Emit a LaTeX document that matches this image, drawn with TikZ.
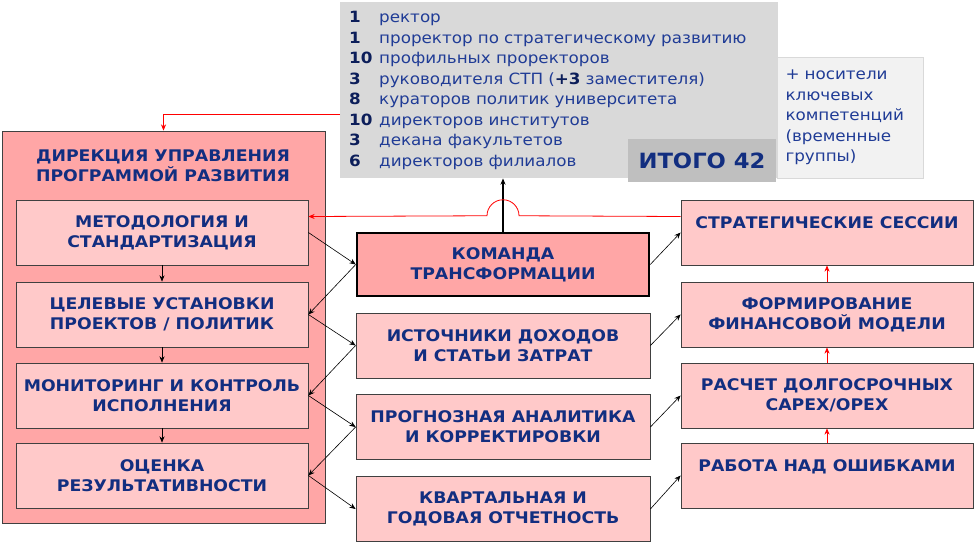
\documentclass[tikz,border=0pt]{standalone}
\usepackage{fontspec}
\setmainfont[FakeStretch=1.08]{DejaVu Sans}
\usepackage{xcolor}
\usetikzlibrary{positioning,arrows.meta,calc}
\definecolor{navy}{RGB}{18,46,128}
\definecolor{digc}{RGB}{12,30,90}
\definecolor{listc}{RGB}{32,60,150}
\definecolor{pinkd}{RGB}{255,166,166}
\definecolor{pinkl}{RGB}{255,201,201}
\definecolor{edge}{RGB}{64,64,64}
\definecolor{greyb}{RGB}{217,217,217}
\definecolor{greyt}{RGB}{191,191,191}
\definecolor{greyn}{RGB}{242,242,242}
\newcommand\cnt[1]{\makebox[30pt][l]{\bfseries\color{digc}#1}}

\begin{document}
\begin{tikzpicture}[x=1pt, y=-1pt, >={Stealth[length=2.2mm, width=1.8mm]},
  bt/.style={font=\bfseries\fontsize{16}{20}\selectfont, text=navy, align=center},
  pb/.style={bt, draw=edge, fill=pinkl, line width=0.8pt, minimum width=292pt, minimum height=65pt, inner sep=0pt},
  kb/.style={pb, draw=black, fill=pinkd, line width=2.5pt, minimum width=292pt, minimum height=63pt},
  dirbox/.style={draw=edge, fill=pinkd, line width=0.8pt, minimum width=323pt, minimum height=392pt, inner sep=0pt},
  gb/.style={fill=greyb, minimum width=438pt, minimum height=175pt, text width=420pt, inner sep=9pt, align=left,
    font=\fontsize{15.5}{20.5}\selectfont, text=listc, anchor=north west},
  tb/.style={fill=greyt, minimum width=148pt, minimum height=43pt, font=\bfseries\fontsize{21}{26}\selectfont, text=navy},
  nb/.style={draw=greyb, fill=greyn, minimum width=145pt, minimum height=121pt, text width=130pt, inner sep=8pt, align=left,
    font=\fontsize{15.5}{20.5}\selectfont, text=listc},
  m/.style={->, line width=0.6pt}, r/.style={->, red, line width=0.8pt}]
\useasboundingbox (0,0) rectangle (974,542);

% team composition
\node[nb] (extra) at (850.5,117.5) {+ носители ключевых компетенций (временные группы)};
\node[gb] (team) at (340,2) {\cnt{1}ректор\\
  \cnt{1}проректор по стратегическому развитию\\
  \cnt{10}профильных проректоров\\
  \cnt{3}руководителя СТП (\textbf{\color{digc}+3} заместителя)\\
  \cnt{8}кураторов политик университета\\
  \cnt{10}директоров институтов\\
  \cnt{3}декана факультетов\\
  \cnt{6}директоров филиалов};
\node[tb] (total) at (702,160.5) {ИТОГО 42};

% left column
\node[dirbox] (dir) at (163.5,327) {};
\node[bt] (dirt) at (163,166) {ДИРЕКЦИЯ УПРАВЛЕНИЯ\\ПРОГРАММОЙ РАЗВИТИЯ};
\node[pb] (meth) at (162,232.5) {МЕТОДОЛОГИЯ И\\СТАНДАРТИЗАЦИЯ};
\node[pb] (goal) at (162,314.5) {ЦЕЛЕВЫЕ УСТАНОВКИ\\ПРОЕКТОВ / ПОЛИТИК};
\node[pb] (mon) at (162,395.5) {МОНИТОРИНГ И КОНТРОЛЬ\\ИСПОЛНЕНИЯ};
\node[pb] (eval) at (162,475.5) {ОЦЕНКА\\РЕЗУЛЬТАТИВНОСТИ};

% middle column
\node[kb] (cmd) at (503,264.5) {КОМАНДА\\ТРАНСФОРМАЦИИ};
\node[pb, minimum width=294pt] (inc) at (503,345.5) {ИСТОЧНИКИ ДОХОДОВ\\И СТАТЬИ ЗАТРАТ};
\node[pb, minimum width=294pt] (fcst) at (503,427) {ПРОГНОЗНАЯ АНАЛИТИКА\\И КОРРЕКТИРОВКИ};
\node[pb, minimum width=294pt] (rep) at (503,509) {КВАРТАЛЬНАЯ И\\ГОДОВАЯ ОТЧЕТНОСТЬ};

% right column
\node[pb] (strat) at (827,232.5) {СТРАТЕГИЧЕСКИЕ СЕССИИ\\~};
\node[pb] (fin) at (827,314.5) {ФОРМИРОВАНИЕ\\ФИНАНСОВОЙ МОДЕЛИ};
\node[pb] (capex) at (827,395.5) {РАСЧЕТ ДОЛГОСРОЧНЫХ\\CAPEX/OPEX};
\node[pb] (errs) at (827,475.5) {РАБОТА НАД ОШИБКАМИ\\~};

% connectors
\foreach \a/\b in {meth/goal, goal/mon, mon/eval} \draw[m] (\a) -- (\b);
\foreach \a/\b in {errs/capex, capex/fin, fin/strat} \draw[r] (\a) -- (\b);
\foreach \l/\c/\n in {meth/cmd/goal, goal/inc/mon, mon/fcst/eval} {
  \draw[m] (\l.east) -- (\c.west);
  \draw[m] (\c.west) -- (\n.east);
}
\draw[m] (eval.east) -- (rep.west);
\foreach \c/\s in {cmd/strat, inc/fin, fcst/capex, rep/errs} \draw[m] (\c.east) -- (\s.west);
\draw[->, line width=1.6pt] (cmd.north) -- (cmd.north |- team.south);
\coordinate (hop) at ($(cmd.north)+(0,-16)$);
\draw[r] ([yshift=16pt]strat.west) -- ([xshift=16pt]hop) arc[start angle=0, end angle=180, radius=16pt] -- ([yshift=16pt]meth.east);
\draw[r] ([yshift=-24.5pt]team.west) -| (dir.north);
\end{tikzpicture}
\end{document}
